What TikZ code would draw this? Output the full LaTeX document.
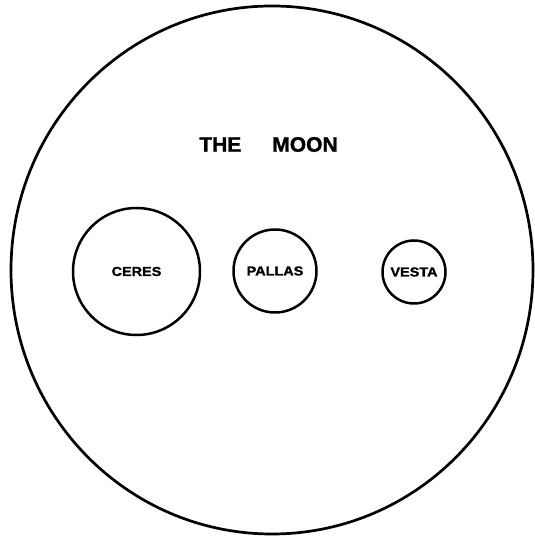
\documentclass[tikz,border=0pt]{standalone}
\usepackage{fontspec}
\usepackage{graphicx}
\usetikzlibrary{shapes.geometric}
\setmainfont{Liberation Sans}
\newfontfamily\heavyfont[FakeBold=1.2]{Liberation Sans Bold}
\tikzset{
  body/.style={draw, circle, line width=2.5pt, inner sep=0pt, outer sep=0pt,
    font=\heavyfont\fontsize{13}{13}\selectfont},
  title/.style={font=\heavyfont\fontsize{21}{21}\selectfont, inner sep=0pt}
}
\newcommand{\wide}[1]{\scalebox{1.11}[1]{#1}}
\begin{document}
\begin{tikzpicture}[x=1pt,y=1pt]
\useasboundingbox (0,0) rectangle (535,536);
\node[draw, ellipse, line width=2.7pt, minimum width=522pt, minimum height=528pt, inner sep=0pt] (moon) at (272,266) {};
\node[title] (t) at (268.5,391.5) {THE\hspace{31pt}MOON};
\node[body, minimum size=127pt] (ceres) at (136.5,264.5) {\wide{CERES}};
\node[body, minimum size=83pt] (pallas) at (275,265) {\wide{PALLAS}};
\node[body, minimum size=63pt] (vesta) at (414,264) {\wide{VESTA}};
\end{tikzpicture}
\end{document}
